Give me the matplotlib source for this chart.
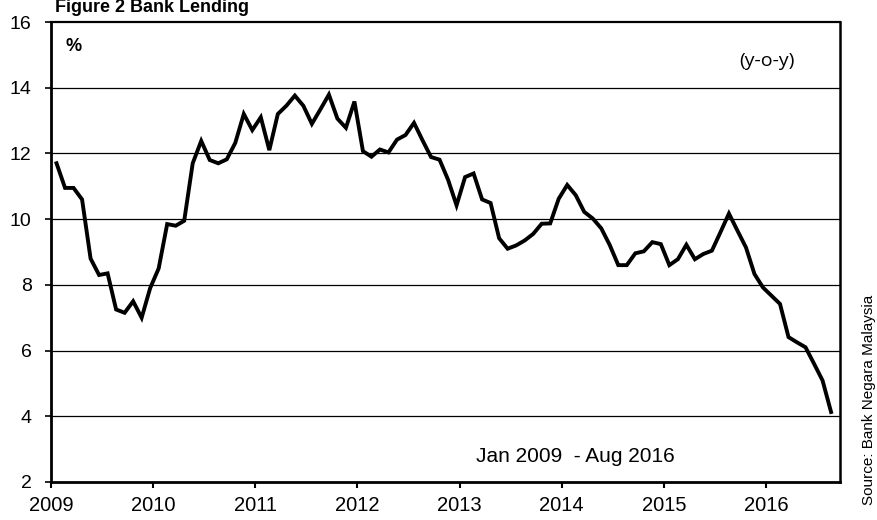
import matplotlib
matplotlib.use("Agg")
import matplotlib.pyplot as plt
import numpy as np

plt.rcParams['font.family'] = ['Liberation Sans', 'DejaVu Sans']

# Monthly bank lending growth (y-o-y, %), Jan 2009 - Aug 2016
start_year = 2009
lending = [
    11.7, 10.95, 10.95, 10.6, 8.8, 8.3, 8.35, 7.25, 7.15, 7.5, 7.0, 7.9,      # 2009
    8.5, 9.85, 9.8, 9.95, 11.7, 12.38, 11.8, 11.7, 11.82, 12.32, 13.2, 12.71,  # 2010
    13.1, 12.1, 13.2, 13.45, 13.76, 13.45, 12.9, 13.34, 13.79, 13.06, 12.78, 13.58,  # 2011
    12.07, 11.9, 12.12, 12.03, 12.42, 12.56, 12.93, 12.4, 11.89, 11.81, 11.2, 10.42,  # 2012
    11.28, 11.39, 10.6, 10.49, 9.42, 9.1, 9.2, 9.35, 9.55, 9.86, 9.87, 10.62,  # 2013
    11.04, 10.73, 10.22, 10.02, 9.72, 9.21, 8.6, 8.6, 8.96, 9.02, 9.3, 9.24,   # 2014
    8.6, 8.78, 9.22, 8.78, 8.94, 9.04, 9.6, 10.17, 9.65, 9.14, 8.33, 7.92,     # 2015
    7.67, 7.42, 6.41, 6.25, 6.1, 5.6, 5.09, 4.13,                              # 2016
]
year_ticks = [2009, 2010, 2011, 2012, 2013, 2014, 2015, 2016]
y_ticks = [2, 4, 6, 8, 10, 12, 14, 16]

month_idx = np.arange(len(lending))
x = start_year + (month_idx + 0.65) / 12.0

fig = plt.figure(figsize=(8.77, 5.2), dpi=100)
ax = fig.add_axes([51/877, 1 - 482/520, (840 - 51)/877, (482 - 22)/520])

for yv in y_ticks[1:-1]:
    ax.axhline(yv, color='black', lw=0.9, zorder=1)

ax.plot(x, lending, color='black', lw=2.8, solid_joinstyle='miter', zorder=3)

ax.set_xlim(2009.0, 2016.725)
ax.set_ylim(2, 16)
ax.set_xticks(year_ticks)
ax.set_xticklabels([str(y) for y in year_ticks], fontsize=14.5)
ax.set_yticks(y_ticks)
ax.set_yticklabels([str(v) for v in y_ticks], fontsize=14)
ax.tick_params(axis='x', direction='out', length=4, width=1.5, pad=6)
ax.tick_params(axis='y', direction='out', length=4, width=1.2, pad=10)

for side, lw in [('left', 2.0), ('bottom', 2.0), ('right', 1.8), ('top', 1.6)]:
    ax.spines[side].set_linewidth(lw)
    ax.spines[side].set_color('black')

ax.text(0.018, 0.965, '%', transform=ax.transAxes, fontsize=13, fontweight='bold',
        ha='left', va='top')
ax.text(0.9425, 0.935, '(y-o-y)', transform=ax.transAxes, fontsize=14,
        ha='right', va='top', family=['Open Sans', 'DejaVu Sans'])
ax.text(0.7905, 0.043, 'Jan 2009  - Aug 2016', transform=ax.transAxes, fontsize=15,
        ha='right', va='baseline')

fig.text(55/877, 1 - 12/520, 'Figure 2 Bank Lending', fontsize=13, fontweight='bold',
         ha='left', va='baseline')
fig.text(869/877, 1 - 400/520, 'Source: Bank Negara Malaysia', fontsize=11,
         rotation=90, ha='center', va='center')

fig.savefig('out.png', dpi=100)
